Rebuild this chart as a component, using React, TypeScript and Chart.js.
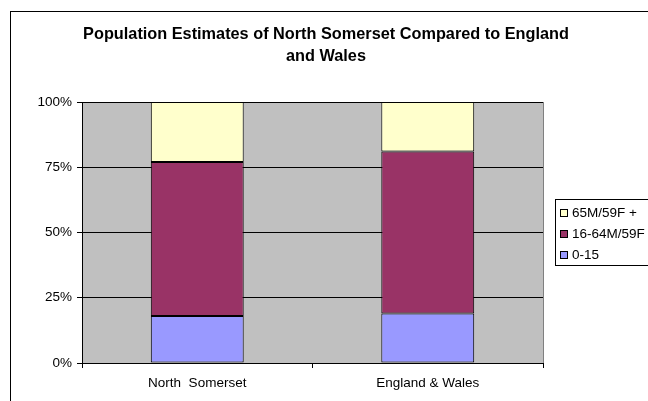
import React, { useEffect, useRef } from "react";
import { Chart, registerables } from "chart.js";

Chart.register(...registerables);

const categories = ["North  Somerset", "England & Wales"];
const seriesLabels = ["0-15", "16-64M/59F", "65M/59F +"];
const age0to15 = [18, 19];
const age16to64 = [59, 62];
const age65plus = [23, 19];
const yTicks = [0, 25, 50, 75, 100];
const titleLines = ["Population Estimates of North Somerset Compared to England", "and Wales"];

const colors = ["#9999FF", "#993366", "#FFFFCC"];
const FONT = "Arial, 'Liberation Sans', sans-serif";

const framePlugin = {
  id: "framePlugin",
  beforeDraw(chart: any) {
    const { ctx, chartArea } = chart;
    ctx.save();
    ctx.fillStyle = "#ffffff";
    ctx.fillRect(0, 0, chart.width, chart.height);
    ctx.strokeStyle = "#000000";
    ctx.lineWidth = 1;
    ctx.strokeRect(10.5, 11.5, 800, 600);
    ctx.fillStyle = "#C0C0C0";
    ctx.fillRect(chartArea.left, chartArea.top, chartArea.right - chartArea.left, chartArea.bottom - chartArea.top);
    ctx.strokeStyle = "#808080";
    ctx.strokeRect(chartArea.left + 0.5, chartArea.top + 0.5, chartArea.right - chartArea.left, chartArea.bottom - chartArea.top);
    // title
    ctx.fillStyle = "#000000";
    ctx.font = `bold 16.3px ${FONT}`;
    ctx.textAlign = "center";
    ctx.textBaseline = "middle";
    titleLines.forEach((t, i) => ctx.fillText(t, 326, 35 + i * 22));
    ctx.restore();
  },
  afterDraw(chart: any) {
    const { ctx } = chart;
    ctx.save();
    // legend
    const lx = 555, ly = 199;
    ctx.fillStyle = "#ffffff";
    ctx.fillRect(lx, ly, 200, 66);
    ctx.strokeStyle = "#000000";
    ctx.lineWidth = 1;
    ctx.strokeRect(lx + 0.5, ly + 0.5, 200, 66);
    const ds = chart.data.datasets.slice().reverse();
    ctx.font = `13.5px ${FONT}`;
    ctx.textBaseline = "middle";
    ctx.textAlign = "left";
    ds.forEach((d: any, i: number) => {
      const cy = 213 + i * 21;
      ctx.fillStyle = d.backgroundColor;
      ctx.fillRect(560.5, cy - 3.5, 7, 7);
      ctx.strokeStyle = "#000";
      ctx.strokeRect(560.5, cy - 3.5, 7, 7);
      ctx.fillStyle = "#000";
      ctx.fillText(d.label, 572, cy + 0.5);
    });
    ctx.restore();
  },
};

export default function App() {
  const ref = useRef<HTMLCanvasElement>(null);
  useEffect(() => {
    document.body.style.margin = "0";
    const values = [age0to15, age16to64, age65plus];
    const chart = new Chart(ref.current!, {
      type: "bar",
      data: {
        labels: categories,
        datasets: seriesLabels.map((label, i) => ({
          label,
          data: values[i],
          backgroundColor: colors[i],
          borderColor: "#000000",
          borderWidth: 1,
          borderSkipped: false,
          barPercentage: 0.403,
          categoryPercentage: 1,
        })),
      },
      options: {
        animation: false,
        responsive: false,
        devicePixelRatio: 1,
        layout: { padding: { top: 102, right: 105, bottom: 0, left: 0 } },
        plugins: { legend: { display: false }, title: { display: false }, tooltip: { enabled: false } },
        scales: {
          x: {
            stacked: true,
            offset: true,
            grid: { offset: true, drawOnChartArea: false, drawTicks: true, tickLength: 5, color: "#000" },
            border: { color: "#000" },
            ticks: { color: "#000", font: { family: FONT, size: 13.5 }, padding: 7, maxRotation: 0 },
            afterFit: (a: any) => { a.height = 38; },
          },
          y: {
            stacked: true,
            min: 0,
            max: 100,
            afterBuildTicks: (a: any) => { a.ticks = yTicks.map((v) => ({ value: v })); },
            grid: { color: "#000", tickLength: 5, drawTicks: true },
            border: { color: "#000" },
            ticks: { color: "#000", font: { family: FONT, size: 13.5 }, padding: 5, callback: (v: any) => `${v}%` },
            afterFit: (a: any) => { a.width = 82; },
          },
        },
      },
      plugins: [framePlugin],
    });
    return () => chart.destroy();
  }, []);
  return <canvas ref={ref} width={648} height={401} style={{ display: "block" }} />;
}
